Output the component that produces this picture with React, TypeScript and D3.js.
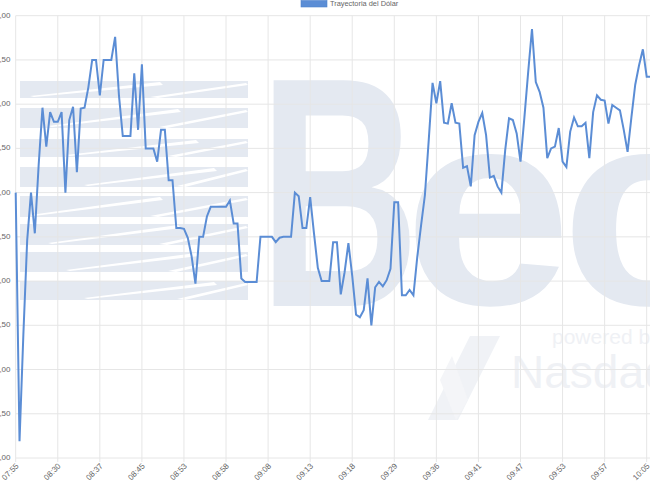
import React from 'react';
import * as d3 from 'd3';

// precio del dólar, un punto por operación (07:55 - 10:05)
const precios = [
  4090.0, 4087.19, 4088.39, 4089.46, 4090.0, 4089.54, 4090.31, 4090.96, 4090.52, 4090.91,
  4090.8, 4090.8, 4090.91, 4090.0, 4090.82, 4090.97, 4090.23, 4090.95, 4090.96, 4091.19,
  4091.5, 4091.5, 4091.1, 4091.5, 4091.5, 4091.5, 4091.76, 4091.1, 4090.64, 4090.64,
  4090.64, 4091.35, 4090.71, 4091.45, 4090.5, 4090.5, 4090.5, 4090.35, 4090.71, 4090.71,
  4090.14, 4090.14, 4089.6, 4089.6, 4089.59, 4089.49, 4089.28, 4088.97, 4089.5, 4089.5,
  4089.73, 4089.84, 4089.84, 4089.84, 4089.84, 4089.84, 4089.91, 4089.65, 4089.65, 4089.03,
  4088.99, 4088.99, 4088.99, 4088.99, 4089.5, 4089.5, 4089.5, 4089.5, 4089.44, 4089.49,
  4089.5, 4089.5, 4089.5, 4090.0, 4089.96, 4089.6, 4089.6, 4089.95, 4089.54, 4089.15,
  4089.0, 4089.0, 4089.0, 4089.44, 4089.44, 4088.85, 4089.1, 4089.43, 4089.06, 4088.62,
  4088.59, 4088.67, 4089.03, 4088.5, 4088.93, 4088.99, 4088.94, 4089.01, 4089.14, 4089.89,
  4089.89, 4088.84, 4088.84, 4088.9, 4088.84, 4089.27, 4089.63, 4089.97, 4090.59, 4091.24,
  4091.01, 4091.26, 4090.79, 4090.78, 4091.01, 4090.79, 4090.78, 4090.28, 4090.3, 4090.07,
  4090.65, 4090.8, 4090.9, 4090.65, 4090.17, 4090.19, 4090.07, 4090.0, 4090.48, 4090.84,
  4090.82, 4090.67, 4090.35, 4090.84, 4091.36, 4091.85, 4091.25, 4091.14, 4090.96, 4090.39,
  4090.5, 4090.52, 4090.73, 4090.35, 4090.29, 4090.69, 4090.85, 4090.75, 4090.75, 4090.79,
  4090.39, 4090.91, 4091.1, 4091.05, 4091.04, 4090.78, 4090.99, 4090.96, 4090.93, 4090.71,
  4090.46, 4090.85, 4091.22, 4091.44, 4091.62, 4091.31, 4091.31,
];

// etiquetas que quedan visibles en el eje x (una cada 11 puntos)
const horas = [
  '07:55', '08:30', '08:37', '08:45', '08:53', '08:58', '09:08', '09:13',
  '09:18', '09:29', '09:36', '09:41', '09:47', '09:53', '09:57', '10:05',
];
const saltoEtiquetas = 11;

const yMin = 4087;
const yMax = 4092;
const yPaso = 0.5;

const serie = 'Trayectoria del Dólar';

const W = 650;
const H = 487;
const left = 15.7;
const top = 15.7;
const bottom = 458;
const lineColor = '#5b8dd5';
const gridColor = '#e6e6e6';
const markColor = '#e4e9f1';
const font = "'Liberation Sans', Arial, sans-serif";

const fmt = d3
  .formatLocale({ decimal: ',', thousands: '.', grouping: [3], currency: ['$', ''] })
  .format(',.2f');

// franjas del logo de fondo
const franjas = [
  [81, 98], [108, 128], [139, 157], [167, 187], [196, 217], [224, 245], [252, 272], [281, 300],
];

const Marca: React.FC = () => (
  <g>
    {franjas.map(([y0, y1], k) => {
      const off = (k % 4) * 18;
      return (
        <g key={k}>
          <rect x={20} y={y0} width={228} height={y1 - y0} fill={markColor} />
          <polygon
            points={`${30 + off},${y1 - 2} ${160 + off},${y0 + 1} ${163 + off},${y0 + 4} ${34 + off},${y1 - 1}`}
            fill="#fff"
          />
          <polygon
            points={`${150 + off / 2},${y1 - 1} ${246},${y0 + 2} ${248},${y0 + 4} ${158 + off / 2},${y1}`}
            fill="#fff"
          />
        </g>
      );
    })}
    <text
      x={-24}
      y={0}
      transform="translate(275,306) scale(0.68,1)"
      fontFamily={font}
      fontWeight="bold"
      fontSize={328}
      fill={markColor}
    >
      B
    </text>
    <text
      x={-10}
      y={0}
      transform="translate(413,304) scale(0.92,0.85)"
      fontFamily={font}
      fontWeight="bold"
      fontSize={328}
      fill={markColor}
    >
      e
    </text>
    <text
      x={-10}
      y={0}
      transform="translate(570,304) scale(0.92,0.85)"
      fontFamily={font}
      fontWeight="bold"
      fontSize={328}
      fill={markColor}
    >
      c
    </text>
    <text x={552} y={344} fontFamily={font} fontSize={21} fill="#eff1f5">
      powered by
    </text>
    <polygon points="428,420 470,336 500,336 458,420" fill="#f0f2f6" />
    <polygon points="440,380 452,356 468,400 456,420" fill="#f4f5f8" />
    <text x={511} y={388} fontFamily={font} fontSize={46} fill="#eff1f5">
      Nasdaq
    </text>
  </g>
);

export default function App() {
  const x = d3
    .scaleLinear()
    .domain([0, (horas.length - 1) * saltoEtiquetas])
    .range([left, 646.7]);
  const y = d3.scaleLinear().domain([yMin, yMax]).range([bottom, top]);
  const yTicks = d3.range(yMin, yMax + yPaso / 2, yPaso);

  const linea = d3
    .line<number>()
    .x((_, i) => x(i))
    .y((d) => y(d));

  return (
    <svg
      width={W}
      height={H}
      style={{ position: 'absolute', left: 0, top: 0, background: '#fff' }}
      fontFamily={font}
    >
      <Marca />

      {yTicks.map((t) => (
        <g key={t}>
          <line x1={left} x2={W} y1={y(t)} y2={y(t)} stroke={gridColor} strokeWidth={1} />
          <text x={10.5} y={y(t)} textAnchor="end" dominantBaseline="middle" fontSize={8} fill="#666">
            {fmt(t)}
          </text>
        </g>
      ))}

      {horas.map((h, k) => {
        const xi = x(k * saltoEtiquetas);
        return (
          <g key={h}>
            <line x1={xi} x2={xi} y1={top} y2={bottom + 4} stroke={gridColor} strokeWidth={1} />
            <text
              transform={`translate(${xi + 2},${bottom + 7}) rotate(-45)`}
              textAnchor="end"
              dominantBaseline="middle"
              fontSize={8}
              fill="#666"
            >
              {h}
            </text>
          </g>
        );
      })}

      <path
        d={linea(precios) ?? ''}
        fill="none"
        stroke={lineColor}
        strokeWidth={2}
        strokeLinejoin="miter"
      />

      <g>
        <rect x={301} y={0.5} width={26} height={6.5} fill={lineColor} stroke="#4f82cc" strokeWidth={0.6} />
        <text x={330} y={4} dominantBaseline="middle" fontSize={7.4} fill="#666">
          {serie}
        </text>
      </g>
    </svg>
  );
}
